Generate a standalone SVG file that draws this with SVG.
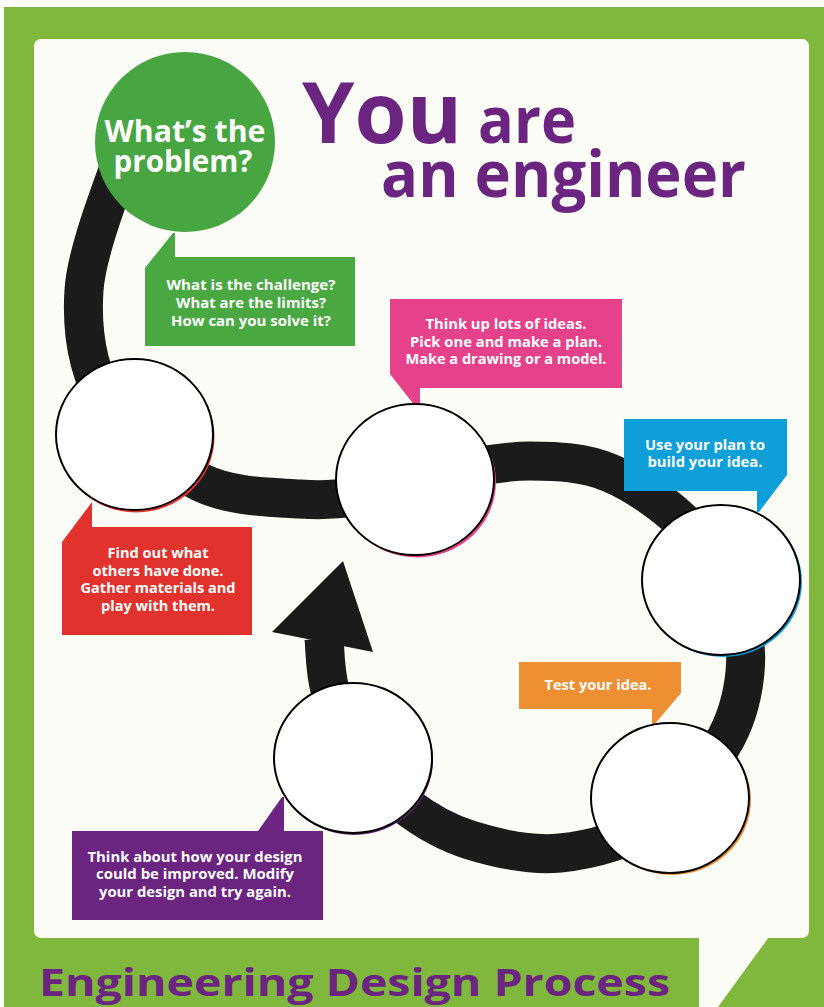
<svg xmlns="http://www.w3.org/2000/svg" width="824" height="1007" viewBox="0 0 824 1007">
  <style>
    .frame { fill: #80b83e; }
    .panel { fill: #fdfdf8; }
    .loop { fill: none; stroke: #1b1b1b; stroke-width: 39; stroke-linecap: butt; stroke-linejoin: round; }
    .head { fill: #1b1b1b; }
    .slot { fill: #ffffff; stroke: #000000; stroke-width: 2; }
    .t { font-family: "Open Sans", "Liberation Sans", Arial, sans-serif; font-weight: 700; }
    .note { font-size: 14.5px; fill: #ffffff; text-anchor: middle; }
    .big { fill: #6b2480; }
  </style>

  <!-- outer green frame with speech-bubble shaped white panel -->
  <g id="background">
    <rect x="0" y="0" width="824" height="1007" fill="#ffffff"/>
    <rect class="frame" x="4" y="7" width="820" height="1000"/>
    <rect class="panel" x="34" y="39" width="775" height="899" rx="7" ry="7"/>
    <polygon class="panel" points="699,930 809,930 809,882 718,1007 699,1007"/>
  </g>

  <!-- headings -->
  <g id="title">
    <text class="t big" x="302" y="143" font-size="84" textLength="160" lengthAdjust="spacingAndGlyphs">You</text>
    <text class="t big" x="478" y="143" font-size="64" textLength="98" lengthAdjust="spacingAndGlyphs">are</text>
    <text class="t big" x="381" y="197" font-size="64" textLength="365" lengthAdjust="spacingAndGlyphs">an engineer</text>
  </g>
  <g id="footer">
    <text class="t big" x="39" y="996" font-size="37" textLength="631" lengthAdjust="spacingAndGlyphs">Engineering Design Process</text>
  </g>

  <!-- the design cycle loop and its arrowhead -->
  <g id="connectors">
    <path class="loop" d="M125,150 C118.2,173.3 86.8,247.5 84,290 C81.2,332.5 88.7,373 108,405 C127.3,437 168,466.3 200,482 C232,497.7 271.7,497 300,499 C328.3,501 345,498.5 370,494 C395,489.5 423.3,477.5 450,472 C476.7,466.5 503.3,461.2 530,461 C556.7,461.2 583.7,462 610,473 C636.3,484 667.2,505.8 688,527 C708.8,548.2 725.5,575.8 735,600 C744.5,624.2 747.2,647.8 745,672 C742.8,696.2 737,720 722,745 C707,770 682,804 655,822 C628,840 590.8,850 560,853 C529.2,856 495.8,848 470,840 C444.2,832 424.2,819.7 405,805 C385.8,790.3 367.5,771.2 355,752 C342.5,732.8 335.2,708.7 330,690 C324.8,671.3 325,648.3 324,638"/>
    <polygon class="head" points="343,561 272,632 373,652"/>
  </g>

  <!-- step 1: define the problem -->
  <g id="step-problem">
    <circle cx="185" cy="142" r="90" fill="#47a641"/>
    <text class="t" x="185" y="142" font-size="31" fill="#ffffff" text-anchor="middle" textLength="161" lengthAdjust="spacingAndGlyphs">What’s the</text>
    <text class="t" x="183" y="172" font-size="31" fill="#ffffff" text-anchor="middle" textLength="139" lengthAdjust="spacingAndGlyphs">problem?</text>
    <polygon fill="#4aa843" points="145,268 173,233 175,233 175,257 355,257 355,346 145,346"/>
    <text class="t note" x="251" y="290" textLength="169" lengthAdjust="spacingAndGlyphs">What is the challenge?</text>
    <text class="t note" x="251" y="308" textLength="150" lengthAdjust="spacingAndGlyphs">What are the limits?</text>
    <text class="t note" x="251" y="326" textLength="160" lengthAdjust="spacingAndGlyphs">How can you solve it?</text>
  </g>

  <!-- step 2: research -->
  <g id="step-research">
    <polygon fill="#e2322e" points="62,542 92,502 92,527 252,527 252,635 62,635"/>
    <text class="t note" x="158" y="558" textLength="101" lengthAdjust="spacingAndGlyphs">Find out what</text>
    <text class="t note" x="158" y="576" textLength="131" lengthAdjust="spacingAndGlyphs">others have done.</text>
    <text class="t note" x="158" y="593" textLength="155" lengthAdjust="spacingAndGlyphs">Gather materials and</text>
    <text class="t note" x="158" y="611" textLength="114" lengthAdjust="spacingAndGlyphs">play with them.</text>
    <ellipse cx="136" cy="437" rx="78.5" ry="75.5" fill="#e2322e"/>
    <ellipse class="slot" cx="134.5" cy="434.5" rx="78.5" ry="75.5"/>
  </g>

  <!-- step 3: imagine and plan -->
  <g id="step-plan">
    <polygon fill="#e6428c" points="390,299 622,299 622,388 420,388 420,406 415,406 390,374"/>
    <text class="t note" x="506" y="329" textLength="161" lengthAdjust="spacingAndGlyphs">Think up lots of ideas.</text>
    <text class="t note" x="506" y="347" textLength="192" lengthAdjust="spacingAndGlyphs">Pick one and make a plan.</text>
    <text class="t note" x="506" y="364" textLength="201" lengthAdjust="spacingAndGlyphs">Make a drawing or a model.</text>
    <ellipse cx="417" cy="482" rx="79" ry="75.5" fill="#e6428c"/>
    <ellipse class="slot" cx="415" cy="479.5" rx="79" ry="75.5"/>
  </g>

  <!-- step 4: create -->
  <g id="step-create">
    <polygon fill="#0e9fd8" points="624,419 787,419 787,475 759,512 757,512 757,491 624,491"/>
    <text class="t note" x="705" y="450" textLength="120" lengthAdjust="spacingAndGlyphs">Use your plan to</text>
    <text class="t note" x="705" y="467" textLength="115" lengthAdjust="spacingAndGlyphs">build your idea.</text>
    <ellipse cx="723" cy="582" rx="79" ry="75" fill="#0e9fd8"/>
    <ellipse class="slot" cx="721" cy="580" rx="79" ry="75"/>
  </g>

  <!-- step 5: test -->
  <g id="step-test">
    <polygon fill="#ef8f33" points="519,662 681,662 681,693 654,725 652,725 652,709 519,709"/>
    <text class="t note" x="598" y="690" textLength="107" lengthAdjust="spacingAndGlyphs">Test your idea.</text>
    <ellipse cx="672" cy="800" rx="79" ry="75" fill="#ef8f33"/>
    <ellipse class="slot" cx="670" cy="798" rx="79" ry="75"/>
  </g>

  <!-- step 6: improve -->
  <g id="step-improve">
    <polygon fill="#6b2480" points="72,831 258,831 282,797 284,797 284,831 323,831 323,920 72,920"/>
    <text class="t note" x="195" y="862" textLength="215" lengthAdjust="spacingAndGlyphs">Think about how your design</text>
    <text class="t note" x="195" y="879" textLength="198" lengthAdjust="spacingAndGlyphs">could be improved. Modify</text>
    <text class="t note" x="195" y="897" textLength="192" lengthAdjust="spacingAndGlyphs">your design and try again.</text>
    <ellipse cx="354" cy="760" rx="79" ry="75" fill="#6b2480"/>
    <ellipse class="slot" cx="353" cy="758" rx="79" ry="75"/>
  </g>
</svg>
